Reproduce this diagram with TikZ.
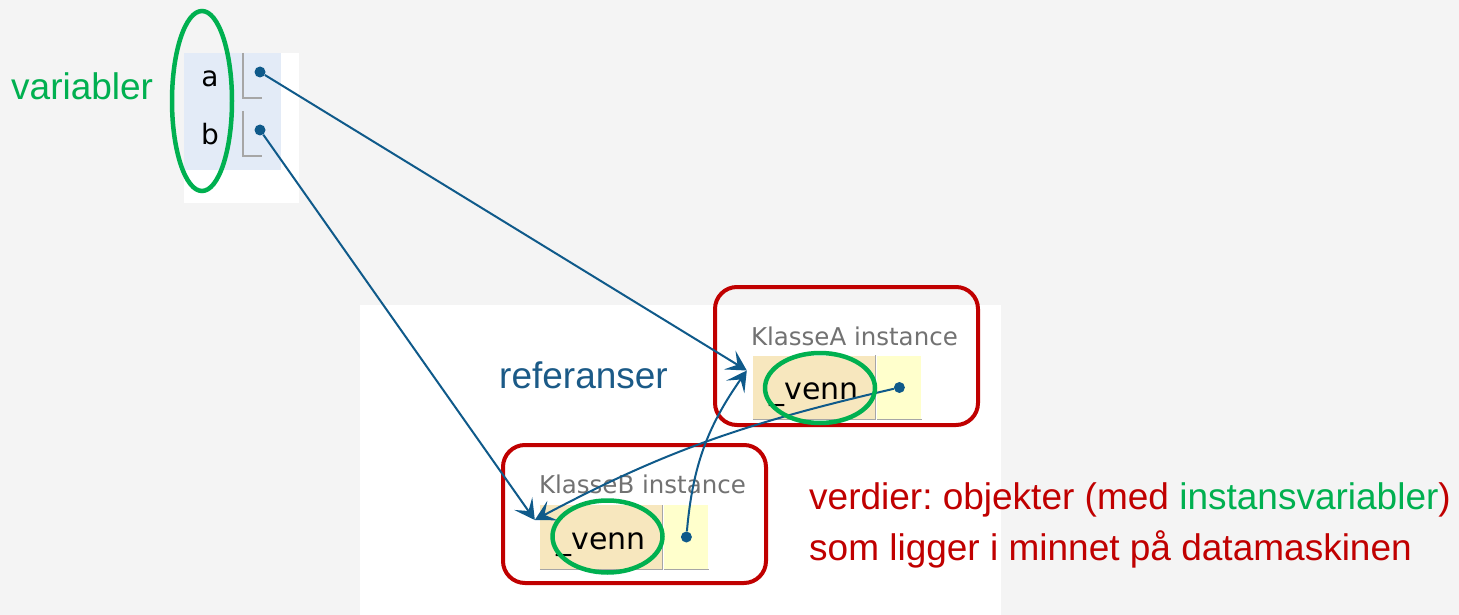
\documentclass[tikz,border=0pt]{standalone}
\usepackage{fontspec}
\setmainfont{Liberation Sans}
\newfontfamily\cellfont{DejaVu Sans}
\usepackage{tikz}
\usetikzlibrary{shapes,arrows.meta,positioning}
\definecolor{bggray}{HTML}{F4F4F4}
\definecolor{framebg}{HTML}{E3EBF7}
\definecolor{refblue}{HTML}{0F5A8A}
\definecolor{labelblue}{HTML}{1B5A87}
\definecolor{objred}{HTML}{C00000}
\definecolor{attrgreen}{HTML}{00B050}
\definecolor{fieldtan}{HTML}{F7E7BE}
\definecolor{valyellow}{HTML}{FFFFCC}
\definecolor{instgray}{HTML}{727272}
\definecolor{cellgray}{HTML}{A6A6A6}
\frenchspacing
\tikzstyle{ptr}=[circle, fill=refblue, inner sep=0pt, minimum size=11pt]
\tikzstyle{ref}=[draw=refblue, line width=2pt, -{Stealth[length=20pt,width=22pt,inset=9pt]}]
\tikzstyle{ring}=[ellipse, draw=attrgreen, line width=4.5pt, inner sep=0pt]
\tikzstyle{objbox}=[draw=objred, line width=4pt, rounded corners=22pt, inner sep=0pt]
\tikzstyle{cellline}=[draw=cellgray, line width=1.3pt]
\tikzstyle{field}=[fill=fieldtan, inner sep=0pt, minimum width=122pt, minimum height=64pt,
  text height=24pt, text depth=0pt, font=\cellfont\fontsize{30}{36}\selectfont]
\tikzstyle{value}=[fill=valyellow, inner sep=0pt, minimum width=44pt, minimum height=64pt]
\tikzstyle{insttitle}=[inner sep=0pt, text=instgray, font=\cellfont\fontsize{24.5}{30}\selectfont]
\tikzstyle{varname}=[inner sep=0pt, font=\cellfont\fontsize{28}{32}\selectfont]
\tikzstyle{big}=[inner sep=0pt, font=\fontsize{37}{51}\selectfont]

\begin{document}
\begin{tikzpicture}[x=1pt, y=-1pt]
  % background and the white panels
  \useasboundingbox[fill=bggray] (0,0) rectangle (1459,615);
  \fill[white] (360,305) rectangle (1001,615);
  \fill[white] (184,53) rectangle (299,203);
  \fill[framebg] (184,53) rectangle (281,170);

  % the two variables
  \foreach \v/\y in {a/72, b/130}{
    \draw[cellline] (243,\y-19) -- (243,\y+26) -- (262,\y+26);
    \node[varname, anchor=base] (var\v) at (210,\y+15) {\v};
    \node[ptr] (ptr\v) at (260,\y) {};
  }
  \node[big, text=attrgreen, anchor=base west] (varlabel) at (11,100) {variabler};

  % object of KlasseA
  \node[objbox, minimum width=263pt, minimum height=138pt] (objA) at (846.5,356) {};
  \node[field] (vennA) at (814,387.5) {\_venn};
  \node[value, right=2pt of vennA] (valA) {};
  \draw[cellline] (vennA.south west) -- (vennA.south east) -- (vennA.north east);
  \draw[cellline] (valA.south west) -- (valA.south east);
  \node[insttitle, anchor=base west] (titleA) at ([xshift=-2pt,yshift=10pt]vennA.north west) {KlasseA instance};
  \node[ptr] (ptrA) at (valA) {};

  % object of KlasseB
  \node[objbox, minimum width=263pt, minimum height=138pt] (objB) at (634.5,514) {};
  \node[field] (vennB) at (601,537) {\_venn};
  \node[value, right=2pt of vennB] (valB) {};
  \draw[cellline] (vennB.south west) -- (vennB.south east) -- (vennB.north east);
  \draw[cellline] (valB.south west) -- (valB.south east);
  \node[insttitle, anchor=base west] (titleB) at ([xshift=-1pt,yshift=11pt]vennB.north west) {KlasseB instance};
  \node[ptr] (ptrB) at (valB) {};

  % where the references point
  \coordinate (tipA) at ([xshift=-6pt,yshift=17pt]vennA.west);
  \coordinate (tipB) at ([xshift=-5pt,yshift=17pt]vennB.west);

  % references
  \draw[ref] (ptra) -- (tipA);
  \draw[ref] (ptrb) -- (tipB);
  \draw[ref] (ptrA) to[out=193, in=28] (tipB);
  \draw[ref] (ptrB) to[out=85, in=235] (tipA);

  % green rings
  \node[ring, minimum width=60pt, minimum height=180pt] (varring) at (202,101) {};
  \node[ring, minimum width=110pt, minimum height=70pt] (ringA) at (820,388) {};
  \node[ring, minimum width=110pt, minimum height=72pt] (ringB) at (607.5,536.5) {};

  % texts (base of a two-line node is its last line)
  \node[big, text=labelblue, anchor=base west] (reflabel) at (499,388) {referanser};
  \node[big, text=objred, anchor=base west, align=left] (vallabel) at (809,560)
    {verdier: objekter (med {\color{attrgreen}instansvariabler})\\som ligger i minnet på datamaskinen};
\end{tikzpicture}
\end{document}
